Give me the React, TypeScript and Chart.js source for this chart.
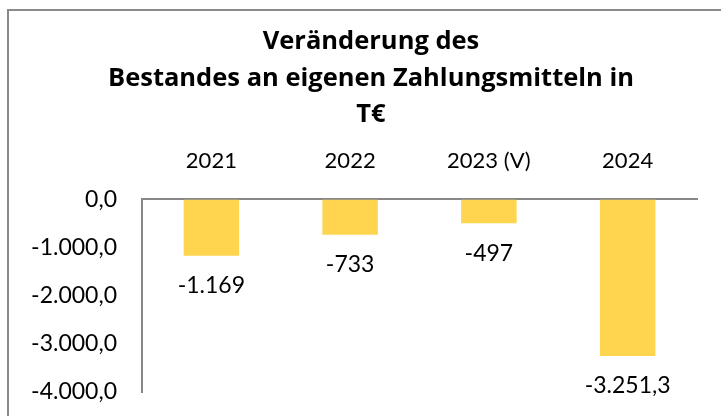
import React, { useEffect, useRef } from "react";
import { Chart, registerables } from "chart.js";

Chart.register(...registerables);

const categories = ["2021", "2022", "2023 (V)", "2024"];
const values = [-1169, -733, -497, -3251.3];
const valueLabels = ["-1.169", "-733", "-497", "-3.251,3"];
const titleLines = ["Veränderung des", "Bestandes an eigenen Zahlungsmitteln in", "T€"];

const FONT = "Lato";
const TITLE_FONT = "Open Sans";
const GRAY = "#878787";

function formatDe(v: number): string {
  const neg = v < 0;
  const abs = Math.abs(v);
  const intPart = Math.floor(abs).toString().replace(/\B(?=(\d{3})+(?!\d))/g, ".");
  const dec = Math.round((abs - Math.floor(abs)) * 10);
  return (neg ? "-" : "") + intPart + "," + dec;
}

const framePlugin = {
  id: "frame",
  beforeDraw(chart: any) {
    const ctx = chart.ctx;
    ctx.save();
    ctx.strokeStyle = "#8a8a8a";
    ctx.lineWidth = 2;
    ctx.strokeRect(8, 10, chart.width + 50, chart.height + 50);
    ctx.restore();
  },
};

const dataLabelPlugin = {
  id: "dataLabels",
  afterDatasetsDraw(chart: any) {
    const ctx = chart.ctx;
    const meta = chart.getDatasetMeta(0);
    ctx.save();
    ctx.font = `23px ${FONT}`;
    ctx.fillStyle = "#000";
    ctx.textAlign = "center";
    ctx.textBaseline = "middle";
    meta.data.forEach((el: any, i: number) => {
      ctx.fillText(valueLabels[i], el.x, el.y + 30);
    });
    ctx.restore();
  },
};

export default function App() {
  const ref = useRef<HTMLCanvasElement | null>(null);
  useEffect(() => {
    if (!ref.current) return;
    const chart = new Chart(ref.current, {
      type: "bar",
      data: {
        labels: categories,
        datasets: [
          {
            data: values,
            backgroundColor: "#FFD54F",
            borderWidth: 0,
            barPercentage: 0.4,
            categoryPercentage: 1.0,
          },
        ],
      },
      options: {
        animation: false,
        responsive: true,
        maintainAspectRatio: false,
        layout: { padding: { top: 0, left: 0, right: 0, bottom: 24 } },
        plugins: {
          legend: { display: false },
          tooltip: { enabled: false },
          title: {
            display: true,
            text: titleLines,
            color: "#000",
            font: { family: TITLE_FONT, size: 25.5, weight: "bold", lineHeight: 1.43 },
            padding: { top: 24, bottom: 0 },
          },
        },
        scales: {
          x: {
            position: "top",
            grid: { display: false, drawTicks: false },
            border: { display: true, color: GRAY, width: 2 },
            ticks: {
              color: "#000",
              font: { family: FONT, size: 22, lineHeight: 1.2 },
              padding: 25,
              maxRotation: 0,
            },
            afterFit(scale: any) {
              scale.height = 66;
            },
          },
          y: {
            min: -4000,
            max: 0,
            grid: { display: false, drawTicks: false },
            border: { display: true, color: GRAY, width: 2 },
            ticks: {
              stepSize: 1000,
              color: "#000",
              font: { family: FONT, size: 23 },
              padding: 25,
              callback: (v: any) => formatDe(Number(v)),
            },
            afterFit(scale: any) {
              scale.width = 142;
              scale.paddingTop = 0;
              scale.paddingBottom = 0;
            },
          },
          spacer: {
            type: "linear",
            position: "right",
            min: 0,
            max: 1,
            grid: { display: false, drawTicks: false },
            border: { display: false },
            ticks: { display: false },
            afterFit(scale: any) {
              scale.width = 45;
              scale.paddingTop = 0;
              scale.paddingBottom = 0;
            },
          },
        },
      },
      plugins: [framePlugin, dataLabelPlugin],
    });
    return () => chart.destroy();
  }, []);

  return (
    <div
      style={{
        position: "fixed",
        left: 0,
        top: 0,
        width: 721,
        height: 416,
        overflow: "hidden",
        background: "#fff",
      }}
    >
      <div style={{ position: "relative", width: 742, height: 416 }}>
        <canvas ref={ref} />
      </div>
    </div>
  );
}
